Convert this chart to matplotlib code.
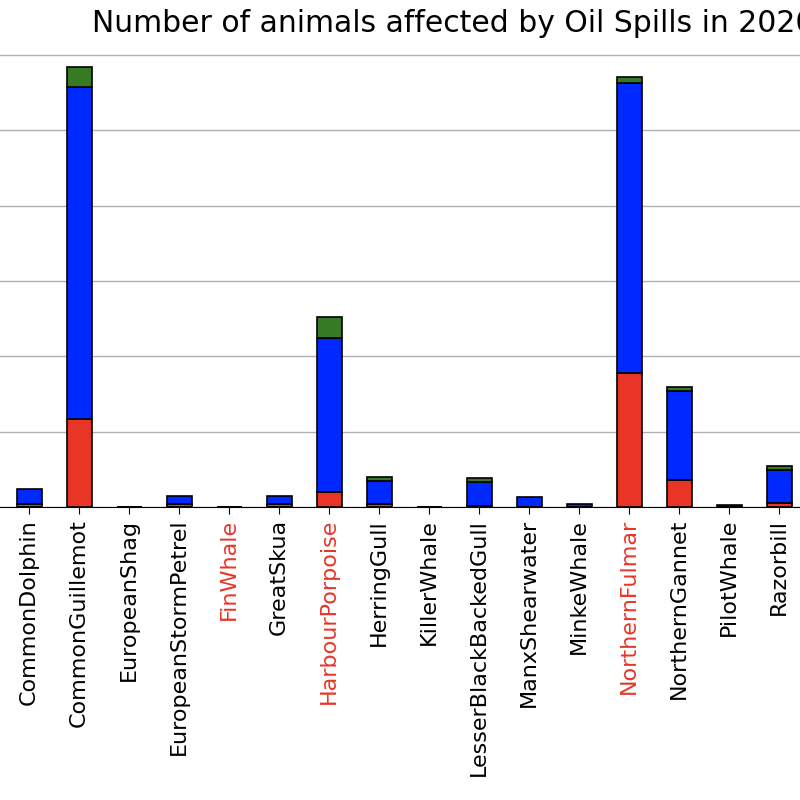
import pandas as pd
import matplotlib.pyplot as plt

# Datos (valores estimados)
species = ['CommonDolphin', 'CommonGuillemot', 'EuropeanShag', 'EuropeanStormPetrel',
           'FinWhale', 'GreatSkua', 'HarbourPorpoise', 'HerringGull', 'KillerWhale',
           'LesserBlackBackedGull', 'ManxShearwater', 'MinkeWhale', 'NorthernFulmar',
           'NorthernGannet', 'PilotWhale', 'Razorbill']
red_part = [4, 117, 0, 4, 0, 4, 20, 4, 0, 1, 0, 0, 178, 36, 0, 5]
blue_part = [20, 441, 0, 11, 0, 11, 204, 31, 0, 32, 13, 4, 385, 118, 2, 44]
green_part = [0, 26, 0, 0, 0, 0, 28, 5, 0, 5, 0, 0, 8, 5, 0, 5]
highlighted = ['FinWhale', 'HarbourPorpoise', 'NorthernFulmar']

df = pd.DataFrame({'red': red_part, 'blue': blue_part, 'green': green_part}, index=species)

fig = plt.figure(figsize=(8, 8), dpi=100)
# la imagen original esta recortada: el eje se sale del lienzo por ambos lados
ax = fig.add_axes([-0.01, 0.36625, 1.02, 0.58375])

df.plot(kind='bar', stacked=True, ax=ax, width=0.5, legend=False,
        color=['#e83526', '#0029ff', '#367a23'], edgecolor='black', linewidth=1.2)

ax.set_xlim(-0.74, 15.58)
ax.set_ylim(0, 620)
ax.set_yticks(range(0, 700, 100))
ax.yaxis.grid(True, color='#b0b0b0', linewidth=1)
ax.set_axisbelow(True)
for side in ['top', 'left', 'right']:
    ax.spines[side].set_visible(False)
ax.tick_params(axis='x', labelsize=16, length=5)
ax.tick_params(axis='y', left=False, labelleft=False)

for lbl in ax.get_xticklabels():
    lbl.set_rotation(90)
    if lbl.get_text() in highlighted:
        lbl.set_color('#e8352a')

# el titulo esta centrado en el eje completo, que continua a la derecha
ax.set_title('Number of animals affected by Oil Spills in 2020', fontsize=21.5, pad=6, x=0.565)

plt.savefig('out.png', dpi=100)
